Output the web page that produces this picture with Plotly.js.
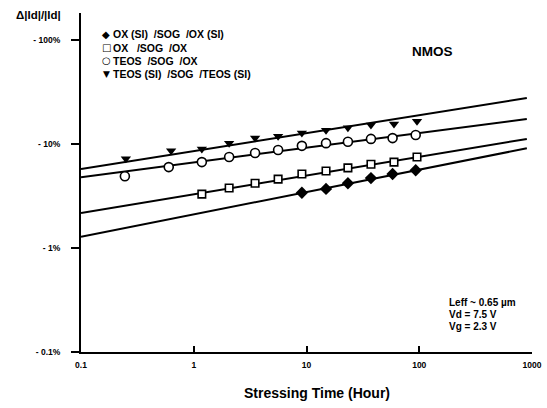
<!DOCTYPE html>
<html><head><meta charset="utf-8">
<script src="https://cdn.plot.ly/plotly-3.0.1.min.js"></script>
<style>html,body{margin:0;padding:0;background:#fff}#c{width:547px;height:408px}</style>
</head><body><div id="c"></div>
<script>
// Stressing time (hours) for measured points
const triX = [0.25, 0.63, 1.18, 2.06, 3.5, 5.6, 9.1, 14.9, 23.3, 37.3, 59.7, 95.5];
const triY = [7.2, 8.6, 8.95, 10.2, 11.4, 11.9, 12.8, 13.6, 14.3, 15.2, 15.6, 16.6];
const cirX = [0.245, 0.6, 1.18, 2.06, 3.5, 5.6, 9.1, 14.9, 23.3, 37.3, 58, 93];
const cirY = [4.9, 6.0, 6.7, 7.5, 8.2, 8.75, 9.6, 10.2, 10.5, 11.2, 11.4, 12.2];
const sqX = [1.18, 2.06, 3.5, 5.6, 9.1, 14.9, 23.3, 37.3, 59.7, 95.5];
const sqY = [3.3, 3.78, 4.2, 4.6, 5.15, 5.5, 5.9, 6.4, 6.7, 7.5];
const diaX = [9.1, 14.9, 23.3, 37.3, 58, 93];
const diaY = [3.4, 3.7, 4.2, 4.7, 5.15, 5.6];
// fitted lines (endpoints)
const fitX = [0.1, 900];
const fitTri = [5.75, 27.7];
const fitCir = [4.8, 17.4];
const fitSq = [2.17, 11.2];
const fitDia = [1.28, 9.1];
const yTickVals = [0.1, 1, 10, 100];
const yTickText = ['- 0.1%', '- 1%', '- 10%', '- 100%'];
const xTickVals = [0.1, 1, 10, 100, 1000];
const xTickText = ['0.1', '1', '10', '100', '1000'];
const legendNames = ['OX (SI)\u00a0\u00a0/SOG\u00a0\u00a0/OX (SI)', 'OX\u00a0\u00a0\u00a0/SOG\u00a0\u00a0/OX', 'TEOS\u00a0\u00a0/SOG\u00a0\u00a0/OX', 'TEOS (SI)\u00a0\u00a0/SOG\u00a0\u00a0/TEOS (SI)'];
const legendSyms = ['\u25C6', '\u25A1', '\u25CB', '\u25BC'];

const F = 'Liberation Sans, Arial, sans-serif';
const lineStyle = {color: '#000', width: 2};
const traces = [
  {x: fitX, y: fitTri, mode: 'lines', line: lineStyle},
  {x: fitX, y: fitCir, mode: 'lines', line: lineStyle},
  {x: fitX, y: fitSq, mode: 'lines', line: lineStyle},
  {x: fitX, y: fitDia, mode: 'lines', line: lineStyle},
  {x: triX, y: triY, mode: 'markers', marker: {symbol: 'triangle-down', size: 9, color: '#000'}},
  {x: cirX, y: cirY, mode: 'markers', marker: {symbol: 'circle', size: 9, color: '#fff', line: {color: '#000', width: 1.6}}},
  {x: sqX, y: sqY, mode: 'markers', marker: {symbol: 'square', size: 7.5, color: '#fff', line: {color: '#000', width: 1.6}}},
  {x: diaX, y: diaY, mode: 'markers', marker: {symbol: 'diamond', size: 9.5, color: '#000'}}
];
const px = p => (p - 81) / 451;
const py = p => (352 - p) / 339;
const ann = [];
const legY = [34, 47.5, 60.5, 73.5];
const symSize = [10, 10, 10, 9];
for (let i = 0; i < 4; i++) {
  ann.push({xref: 'paper', yref: 'paper', x: px(106), y: py(legY[i]), xanchor: 'center', yanchor: 'middle', showarrow: false,
    text: legendSyms[i], font: {family: 'DejaVu Sans, sans-serif', size: symSize[i], color: '#000', weight: 'bold'}});
  ann.push({xref: 'paper', yref: 'paper', x: px(111), y: py(legY[i]), xanchor: 'left', yanchor: 'middle', showarrow: false,
    text: legendNames[i], font: {family: F, size: 10.5, color: '#000', weight: 'bold'}});
}
ann.push({xref: 'paper', yref: 'paper', x: px(38), y: py(15), xanchor: 'center', yanchor: 'middle', showarrow: false,
  text: '\u0394|Id|/|Id|', font: {family: F, size: 11.5, color: '#000', weight: 'bold'}});
ann.push({xref: 'paper', yref: 'paper', x: px(432), y: py(52), xanchor: 'center', yanchor: 'middle', showarrow: false,
  text: 'NMOS', font: {family: F, size: 13.5, color: '#000', weight: 'bold'}});
const cond = ['Leff ~ 0.65 \u00b5m', 'Vd = 7.5 V', 'Vg = 2.3 V'];
const condY = [302, 314, 326];
for (let i = 0; i < 3; i++) {
  ann.push({xref: 'paper', yref: 'paper', x: px(447), y: py(condY[i]), xanchor: 'left', yanchor: 'middle', showarrow: false,
    text: cond[i], font: {family: F, size: 10, color: '#000', weight: 'bold'}});
}
ann.push({xref: 'paper', yref: 'paper', x: px(317), y: py(393), xanchor: 'center', yanchor: 'middle', showarrow: false,
  text: 'Stressing Time (Hour)', font: {family: F, size: 14, color: '#000', weight: 'bold'}});

const layout = {
  width: 547, height: 408,
  margin: {l: 81, r: 15, t: 13, b: 56},
  paper_bgcolor: '#fff', plot_bgcolor: '#fff',
  showlegend: false,
  xaxis: {type: 'log', range: [-1, 3], showgrid: false, zeroline: false, showline: true, linecolor: '#000', linewidth: 2,
    ticks: 'inside', ticklen: 6, tickwidth: 2, tickcolor: '#000', tickvals: xTickVals, ticktext: xTickText,
    tickfont: {family: F, size: 8.5, color: '#000', weight: 'bold'}, ticklabelstandoff: 4},
  yaxis: {type: 'log', range: [-1, 2.26], showgrid: false, zeroline: false, showline: true, linecolor: '#000', linewidth: 2,
    ticks: 'outside', ticklen: 8, tickwidth: 2, tickcolor: '#000', tickvals: yTickVals, ticktext: yTickText,
    tickfont: {family: F, size: 8.5, color: '#000', weight: 'bold'}, ticklabelstandoff: 9},
  annotations: ann
};
Plotly.newPlot('c', traces, layout, {staticPlot: true, displayModeBar: false});
</script></body></html>
